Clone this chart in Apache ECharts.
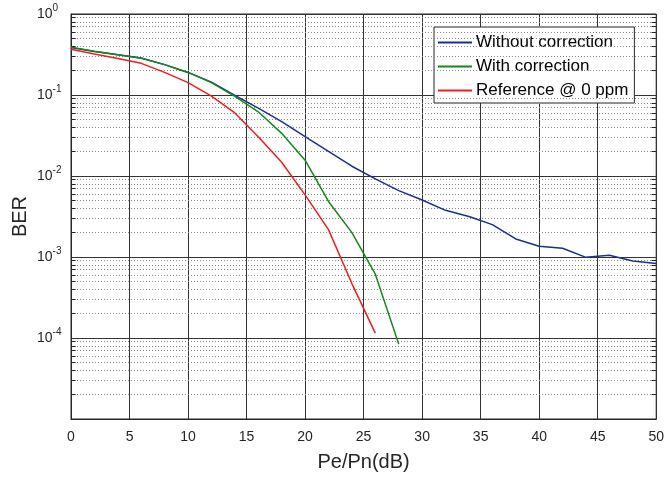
<!DOCTYPE html>
<html>
<head>
<meta charset="utf-8">
<script src="https://cdn.jsdelivr.net/npm/echarts@6/dist/echarts.min.js"></script>
<style>html,body{margin:0;padding:0;background:#fff}#c{width:667px;height:477px}</style>
</head>
<body>
<div id="c"></div>
<script>
// ---- data ----
const xDb = [0,2,4,6,8,10,12,14,16,18,20,22,24,26,28,30,32,34,36,38,40,42,44,46,48,50];
const berWithout = [0.386,0.345,0.314,0.286,0.237,0.19,0.144,0.099,0.069,0.047,0.0306,0.0201,0.0132,0.0092,0.0066,0.00506,0.00377,0.00316,0.00251,0.00167,0.00136,0.00128,0.00099,0.00105,0.00089,0.00083];
const berWith = [0.39,0.347,0.314,0.285,0.237,0.19,0.142,0.096,0.062,0.0336,0.0157,0.00485,0.002,0.000614,0.000084];
const berRef = [0.368,0.32,0.283,0.246,0.19,0.142,0.097,0.06,0.0306,0.0148,0.00585,0.00218,0.00047,0.000115];
const seriesNames = ['Without correction','With correction','Reference @ 0 ppm'];
const decadeExponents = [-5,-4,-3,-2,-1];
const minorFactors = [2,3,4,5,6,7,8,9];

const FONT = 'Arial, "Liberation Sans", Helvetica, sans-serif';
const TXT = '#262626';

function pairs(arr){ return arr.map((v,i)=>[xDb[i], v]); }

// minor (dotted) grid lines and small inside ticks
const minorGrid = [], minorTicks = [];
decadeExponents.forEach(e=>{
  minorFactors.forEach(k=>{
    const v = k*Math.pow(10,e);
    minorGrid.push([{coord:[0,v]},{coord:[50,v]}]);
    minorTicks.push([{coord:[0,v]},{coord:[0.4,v]}]);
    minorTicks.push([{coord:[49.6,v]},{coord:[50,v]}]);
  });
});

const chart = echarts.init(document.getElementById('c'), null, {renderer:'canvas'});
chart.setOption({
  animation:false,
  backgroundColor:'#fff',
  textStyle:{fontFamily:FONT},
  grid:{left:71, top:14, width:587, height:409, show:true, borderColor:TXT, borderWidth:1, backgroundColor:'transparent', containLabel:false},
  legend:{
    left:434, top:27, orient:'vertical', selectedMode:false,
    backgroundColor:'#fff', borderColor:TXT, borderWidth:1,
    padding:[7,6,4,4], itemGap:7, itemWidth:34, itemHeight:2, icon:'rect',
    textStyle:{fontSize:17, color:'#000', fontFamily:FONT, padding:[0,0,0,-1]},
    data:seriesNames
  },
  xAxis:{
    type:'value', min:0, max:50, interval:5,
    name:'Pe/Pn(dB)', nameLocation:'middle', nameGap:33, nameMoveOverlap:false,
    nameTextStyle:{fontSize:20, color:TXT, fontFamily:FONT},
    axisLine:{show:true, lineStyle:{color:TXT}},
    axisTick:{show:false},
    axisLabel:{fontSize:14, color:TXT, margin:11, fontFamily:FONT},
    splitLine:{show:true, lineStyle:{color:'#333', width:1, type:'solid'}}
  },
  yAxis:{
    type:'log', logBase:10, min:1e-5, max:1, splitNumber:5,
    name:'BER', nameLocation:'middle', nameGap:41, nameMoveOverlap:false,
    nameTextStyle:{fontSize:20, color:TXT, fontFamily:FONT},
    axisLine:{show:true, lineStyle:{color:TXT}},
    axisTick:{show:false},
    minorTick:{show:false},
    axisLabel:{
      align:'left', margin:34, color:TXT, fontFamily:FONT,
      formatter:function(v){
        const e = Math.round(Math.log10(v));
        if (e <= -5) return '';
        return '{b|10}{s|' + e + '}';
      },
      rich:{
        b:{fontSize:14, color:TXT, fontFamily:FONT},
        s:{fontSize:10, color:TXT, fontFamily:FONT, padding:[0,0,11,0]}
      }
    },
    splitLine:{show:true, lineStyle:{color:'#333', width:1, type:'solid'}}
  },
  series:[
    {
      name:'_grid', type:'line', data:[], silent:true, z:1,
      markLine:{silent:true, symbol:['none','none'], label:{show:false}, animation:false,
        lineStyle:{color:'#8a8a8a', width:1, type:[1,2]}, data:minorGrid}
    },
    {
      name:'_ticks', type:'line', data:[], silent:true, z:1,
      markLine:{silent:true, symbol:['none','none'], label:{show:false}, animation:false,
        lineStyle:{color:TXT, width:1, type:'solid'}, data:minorTicks}
    },
    {name:seriesNames[0], type:'line', data:pairs(berWithout), showSymbol:false, z:5,
      lineStyle:{color:'#1c2e94', width:1.5}, itemStyle:{color:'#1c2e94'}},
    {name:seriesNames[1], type:'line', data:pairs(berWith), showSymbol:false, z:6,
      lineStyle:{color:'#14881a', width:1.5}, itemStyle:{color:'#14881a'}},
    {name:seriesNames[2], type:'line', data:pairs(berRef), showSymbol:false, z:7,
      lineStyle:{color:'#f21c1c', width:1.5}, itemStyle:{color:'#f21c1c'}}
  ]
});
</script>
</body>
</html>
